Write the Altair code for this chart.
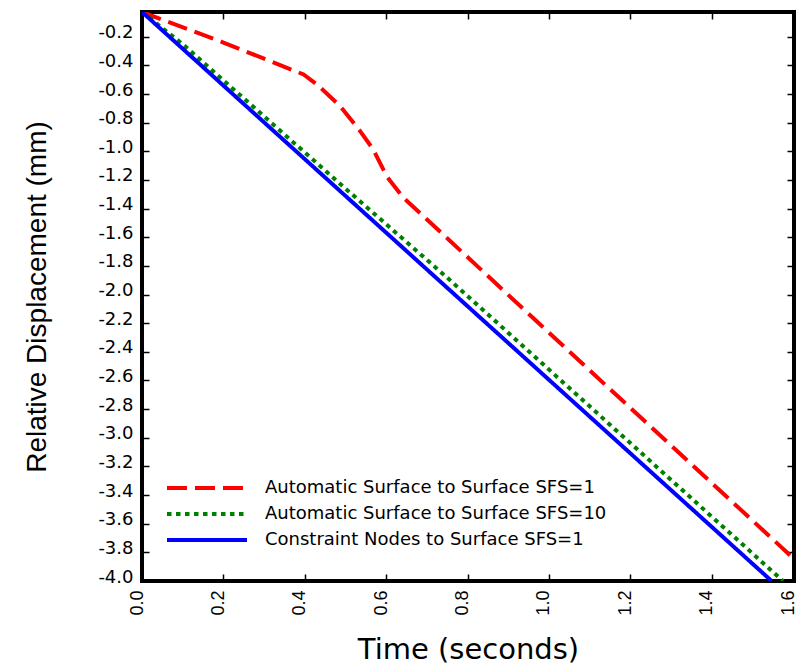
import altair as alt
import pandas as pd

# ---- data ----
series_names = [
    "Automatic Surface to Surface SFS=1",
    "Automatic Surface to Surface SFS=10",
    "Constraint Nodes to Surface SFS=1",
]
t_red = [0.0, 0.2, 0.397, 0.43, 0.487, 0.536, 0.568, 0.601, 0.641, 1.115, 1.605]
v_red = [-0.027, -0.24, -0.463, -0.533, -0.684, -0.859, -0.986, -1.173, -1.32, -2.569, -3.853]
t_green = [0.0, 0.1, 0.5, 0.75, 1.575]
v_green = [-0.027, -0.252, -1.26, -1.882, -4.0]
t_blue = [0.0, 1.547]
v_blue = [-0.027, -4.0]

colors = ["#ff0000", "#008000", "#0000ff"]
dashes = [[20, 8], [4.5, 4.5], [1, 0]]

x_ticks = [0.0, 0.2, 0.4, 0.6, 0.8, 1.0, 1.2, 1.4, 1.6]
y_ticks = [-0.2, -0.4, -0.6, -0.8, -1.0, -1.2, -1.4, -1.6, -1.8, -2.0,
           -2.2, -2.4, -2.6, -2.8, -3.0, -3.2, -3.4, -3.6, -3.8, -4.0]

rows = []
for name, ts, vs in zip(series_names, [t_red, t_green, t_blue], [v_red, v_green, v_blue]):
    for i, (t, v) in enumerate(zip(ts, vs)):
        rows.append({"series": name, "t": t, "v": v, "i": i})
df = pd.DataFrame(rows)

W, H = 652, 569
TK = 7

x_scale = alt.Scale(domain=[0, 1.602], nice=False, zero=False)
y_scale = alt.Scale(domain=[-4.0, -0.027], nice=False, zero=False)

legend = alt.Legend(
    title=None,
    orient="none",
    legendX=8,
    legendY=459,
    fillColor="white",
    padding=5,
    symbolType="M0,0H8",
    symbolSize=400,
    symbolStrokeWidth=4,
    labelOffset=86,
    labelFont="DejaVu Sans",
    labelFontSize=18,
    labelColor="black",
    labelLimit=600,
    rowPadding=5,
)

main = alt.Chart(df).mark_line(strokeWidth=4, clip=True, strokeCap="butt").encode(
    x=alt.X("t:Q", scale=x_scale,
            axis=alt.Axis(values=x_ticks, format=".1f", labelAngle=270,
                          labelBaseline="alphabetic", labelAlign="right",
                          labelFont="Liberation Sans", labelFontSize=18, labelColor="black",
                          labelPadding=9, offset=-TK, tickSize=TK, tickWidth=1.5,
                          tickColor="black", domain=False, grid=False,
                          title="Time (seconds)", titleFont="DejaVu Sans",
                          titleFontSize=29, titleFontWeight="normal", titleColor="black",
                          titleBaseline="alphabetic", titleY=84)),
    y=alt.Y("v:Q", scale=y_scale,
            axis=alt.Axis(values=y_ticks, format=".1f",
                          labelExpr="replace(datum.label, '−', '-')",
                          labelFont="DejaVu Sans", labelFontSize=18, labelColor="black",
                          labelPadding=9, labelOffset=-4, offset=-TK, tickSize=TK,
                          tickWidth=1.5, tickColor="black", domain=False, grid=False,
                          title="Relative Displacement (mm)", titleFont="Liberation Sans",
                          titleFontSize=28, titleFontWeight="normal", titleColor="black",
                          titleBaseline="alphabetic", titleX=-104)),
    color=alt.Color("series:N", scale=alt.Scale(domain=series_names, range=colors), legend=legend),
    strokeDash=alt.StrokeDash("series:N", scale=alt.Scale(domain=series_names, range=dashes), legend=legend),
    order="i:Q",
)

frame_ticks = alt.Chart(df).mark_line(opacity=0).encode(
    x=alt.X("t:Q", scale=x_scale,
            axis=alt.Axis(orient="top", values=x_ticks, labels=False, offset=-TK,
                          tickSize=TK, tickWidth=1.5, tickColor="black", domain=False,
                          grid=False, title=None)),
    y=alt.Y("v:Q", scale=y_scale,
            axis=alt.Axis(orient="right", values=y_ticks, labels=False, offset=-TK,
                          tickSize=TK, tickWidth=1.5, tickColor="black", domain=False,
                          grid=False, title=None)),
    detail="series:N",
    order="i:Q",
)

chart = alt.layer(main, frame_ticks).resolve_axis(
    x="independent", y="independent"
).properties(
    width=W, height=H,
    padding={"left": 142, "top": 12, "right": 4, "bottom": 90},
    autosize="none",
    background="white",
).configure_view(stroke="black", strokeWidth=4)

chart.save("out.html", embed_options={"renderer": "svg", "actions": False})
